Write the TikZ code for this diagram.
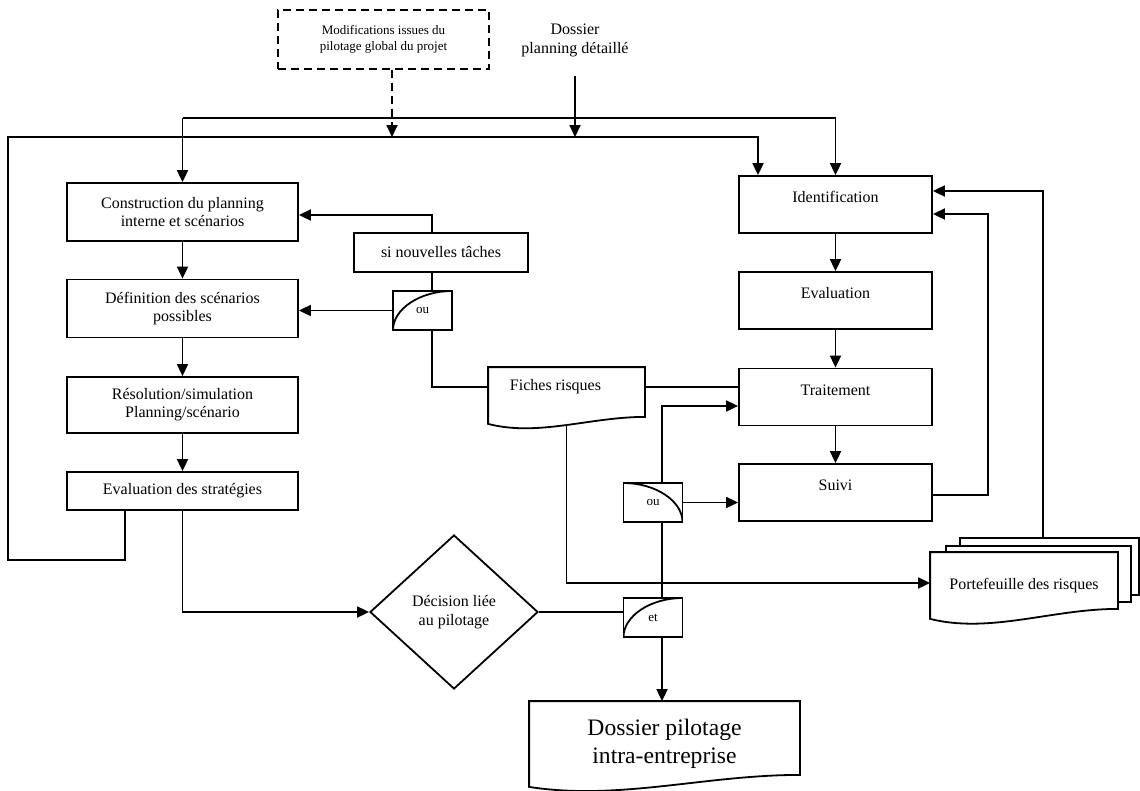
\documentclass[tikz,border=0pt]{standalone}
\usepackage{fontspec}
\setmainfont{Liberation Serif}
\usetikzlibrary{arrows.meta,shapes.geometric,calc}

\begin{document}
\begin{tikzpicture}[x=1pt,y=-1pt,line width=1.8pt,
  arr/.style={-{Triangle[length=12pt,width=11pt]}},
  box/.style={draw,minimum width=231,minimum height=58,align=center,font=\fontsize{16}{18}\selectfont},
  rbox/.style={draw,minimum width=193,minimum height=57,text height=11pt,text depth=15pt,font=\fontsize{16}{18}\selectfont},
  docu/.style={inner sep=0pt,align=center,font=\fontsize{16}{18}\selectfont},
  gate/.style={draw,minimum width=59,minimum height=39,inner sep=0pt,font=\fontsize{13}{15}\selectfont},
  gateup/.style={gate,path picture={\draw[line width=1.8pt] (path picture bounding box.south west) .. controls ([yshift=21pt]path picture bounding box.south west) and ([xshift=-32pt]path picture bounding box.north east) .. (path picture bounding box.north east);}},
  gatedown/.style={gate,path picture={\draw[line width=1.8pt] (path picture bounding box.north west) .. controls ([xshift=32pt]path picture bounding box.north west) and ([yshift=21pt]path picture bounding box.south east) .. (path picture bounding box.south east);}},
]
  \useasboundingbox (0,0) rectangle (1140,790);

  % inputs
  \node[draw,dash pattern=on 8pt off 5pt,minimum width=211,minimum height=59,align=center,font=\fontsize{13}{16}\selectfont] (modif) at (383.5,39.5) {Modifications issues du\\pilotage global du projet};
  \node[align=center,font=\fontsize{16}{19}\selectfont] (dplan) at (575,40) {Dossier\\planning détaillé};
  \coordinate (busA) at (182.5,118);
  \coordinate (busB) at (758,137);
  \coordinate (loopA) at (8,560);

  % planning side
  \node[box] (constr) at (182.5,212) {Construction du planning\\interne et scénarios};
  \node[box] (defin) at (182.5,308.5) {Définition des scénarios\\possibles};
  \node[box,minimum height=56] (resol) at (182.5,405) {Résolution/simulation\\Planning/scénario};
  \node[box,minimum height=38] (evals) at (182.5,491) {Evaluation des stratégies};
  \node[box,minimum width=174,minimum height=39] (nouv) at (441,252.5) {si nouvelles tâches};
  \node[gateup] (ou1) at (422.5,310.5) {ou};
  \node[draw,diamond,minimum width=168,minimum height=154,inner sep=0pt,align=center,font=\fontsize{16}{19}\selectfont] (deci) at (454,612) {Décision liée\\au pilotage};

  % risk side
  \node[rbox] (ident) at (835.5,204.5) {Identification};
  \node[rbox] (evalr) at (835.5,300.5) {Evaluation};
  \node[rbox] (trait) at (835.5,397) {Traitement};
  \node[rbox] (suivi) at (835.5,492.5) {Suivi};
  \node[gatedown] (ou2) at (653,502.5) {ou};
  \node[gateup] (et) at (653,617.5) {et};

  % documents
  \node[docu,minimum width=155,minimum height=38] (fiches) at (566.5,387) {Fiches risques\hspace*{22pt}};
  \draw (fiches.north west) -- (fiches.north east) -- ([yshift=-10pt]fiches.south east) .. controls +(-55,0) and +(50,13) .. ([yshift=-17pt]fiches.south west) -- cycle;
  \node[draw,fill=white,minimum width=179,minimum height=57] (porteC) at (1049.5,566.5) {};
  \node[draw,fill=white,minimum width=185,minimum height=56] (porteB) at (1038.5,574) {};
  \node[docu,fill=white,minimum width=186,minimum height=65] (porte) at (1024,585.5) {Portefeuille des risques};
  \draw (porte.north west) -- (porte.north east) -- ([yshift=10pt]porte.south east) .. controls +(-66,0) and +(60,15) .. (porte.south west) -- cycle;
  \node[docu,minimum width=269,minimum height=84,font=\fontsize{23.6}{28}\selectfont] (dpil) at (664.5,744) {Dossier pilotage\\intra-entreprise};
  \draw (dpil.north west) -- (dpil.north east) -- ([yshift=12pt]dpil.south east) .. controls +(-95,0) and +(90,14) .. (dpil.south west) -- cycle;

  % top buses
  \draw[arr,dash pattern=on 8pt off 5pt] ([xshift=8.5pt]modif.south) -- ([xshift=8.5pt]modif.south |- busB);
  \draw[arr] ([yshift=-15pt]dplan.south) -- (dplan.south |- busB);
  \draw[arr] (busA) -- (constr);
  \draw[arr] (busA) -| (ident);
  \draw[arr] ([xshift=-57.5pt]evals.south) |- (loopA) |- (busB) -- (busB |- ident.north);

  % planning flow
  \draw[arr] (constr) -- (defin);
  \draw[arr] (defin) -- (resol);
  \draw[arr] (resol) -- (evals);
  \draw[arr] (evals.south) |- (deci.west);
  \draw[arr] ([xshift=-9pt]nouv.north) |- ([yshift=-3pt]constr.east);
  \draw ([xshift=-9pt]nouv.south) -- ([xshift=9.5pt]ou1.north);
  \draw[arr] (ou1.west) -- (ou1.west -| defin.east);
  \draw ([xshift=9.5pt]ou1.south) |- (fiches.west);
  \draw (fiches.east) -- (fiches.east -| trait.west);

  % risk flow
  \draw[arr] (ident) -- (evalr);
  \draw[arr] (evalr) -- (trait);
  \draw[arr] (trait) -- (suivi);
  \draw[arr] (ou2.east) -- (ou2.east -| suivi.west);
  \draw[arr] ([xshift=9pt]ou2.north) |- ([yshift=-9pt]trait.west);
  \draw ([xshift=9pt]ou2.south) -- ([xshift=9pt]et.north);
  \draw (deci.east) -- (deci.east -| et.west);
  \draw[arr] ([xshift=9pt]et.south) -- ([xshift=9pt]et.south |- dpil.north);
  \draw[arr] ([yshift=-18pt]fiches.south) |- ([yshift=2.5pt]porte.west);

  % feedback
  \coordinate (fbA) at (988,214);
  \coordinate (fbB) at (1043,191);
  \draw[arr] ([yshift=-2.5pt]suivi.east) -| (fbA) -- (fbA -| ident.east);
  \draw[arr] (porteC.north -| fbB) -- (fbB) -- (fbB -| ident.east);
\end{tikzpicture}
\end{document}
